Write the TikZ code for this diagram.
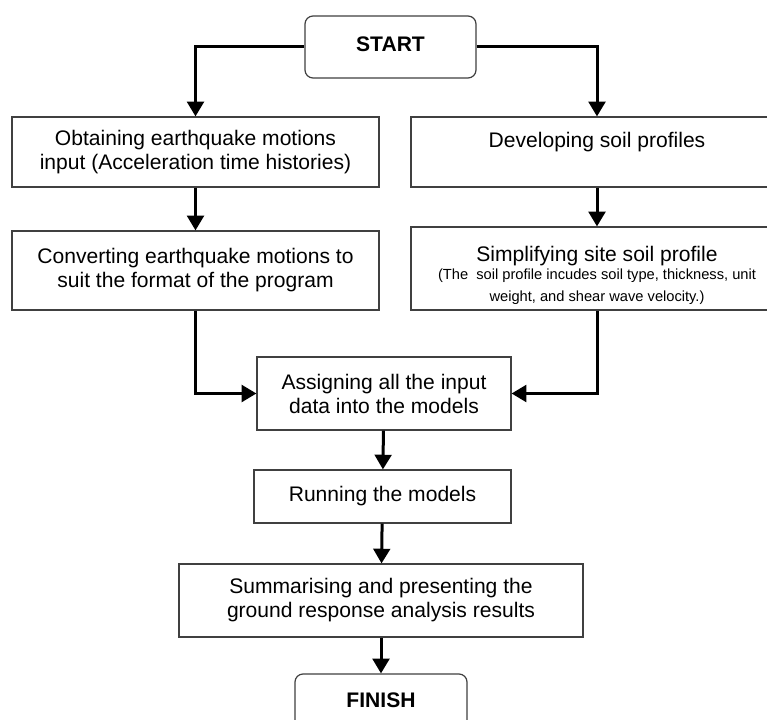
\documentclass[tikz,border=0pt]{standalone}
\usepackage{fontspec}
\setmainfont{Liberation Sans}
\usetikzlibrary{arrows.meta}
\begin{document}
\begin{tikzpicture}[x=0.75pt,y=-0.75pt,
		stepbox/.style={draw=black!75, line width=0.9pt, fill=white, align=center, inner sep=0pt,
			font=\fontsize{15.8}{18}\selectfont},
		endbox/.style={stepbox, rounded corners=6pt, text depth=4.5pt,
			font=\fontsize{15.8}{18}\selectfont\bfseries},
		flow/.style={line width=2.25pt, -{Triangle[width=12.5pt,length=11pt]}}]
		\useasboundingbox (0,0) rectangle (767,720);
		\clip (0,0) rectangle (767,720);
		\fill[white] (0,0) rectangle (767,720);

		% Start
		\node[endbox, minimum width=128.25pt, minimum height=46.5pt] (start) at (390.5,47) {START};

		% Earthquake motions (left branch)
		\node[stepbox, minimum width=275.25pt, minimum height=52.5pt] (obtain) at (195.5,152)
			{Obtaining earthquake motions\\input (Acceleration time histories)};
		\node[stepbox, minimum width=275.25pt, minimum height=59.25pt] (convert) at (195.5,270.5)
			{Converting earthquake motions to\\suit the format of the program};

		% Soil profiles (right branch)
		\node[stepbox, minimum width=279pt, minimum height=52.5pt] (develop) at (597,152)
			{Developing soil profiles\\ \mbox{}};
		\node[stepbox, minimum width=279pt, minimum height=62.25pt] (simplify) at (597,268.5)
			{\rule{0pt}{22pt}Simplifying site soil profile\\[-5pt]
			{\fontsize{11}{16}\selectfont (The\ \ soil profile incudes soil type, thickness, unit}\\[-1.5pt]
			{\fontsize{11}{16}\selectfont weight, and shear wave velocity.)}};

		% Models
		\node[stepbox, minimum width=190.5pt, minimum height=54.75pt] (assign) at (384,393.5)
			{Assigning all the input\\data into the models};
		\node[stepbox, minimum width=192.75pt, minimum height=39.75pt] (run) at (382.5,496.5)
			{Running the models};
		\node[stepbox, minimum width=303pt, minimum height=54.75pt] (summary) at (381,600.5)
			{Summarising and presenting the\\ground response analysis results};

		% Finish
		\node[endbox, minimum width=129pt, minimum height=43.5pt] (finish) at (381,703) {FINISH};

		% Connectors
		\draw[flow] (start.west) -| (obtain.north);
		\draw[flow] (start.east) -| (develop.north);
		\draw[flow] (obtain) -- (convert);
		\draw[flow] (develop) -- (simplify);
		\draw[flow] (convert.south) |- (assign.west);
		\draw[flow] (simplify.south) |- (assign.east);
		\draw[flow] (assign) -- (run);
		\draw[flow] (run) -- (summary);
		\draw[flow] (summary) -- (finish);
	\end{tikzpicture}
\end{document}
